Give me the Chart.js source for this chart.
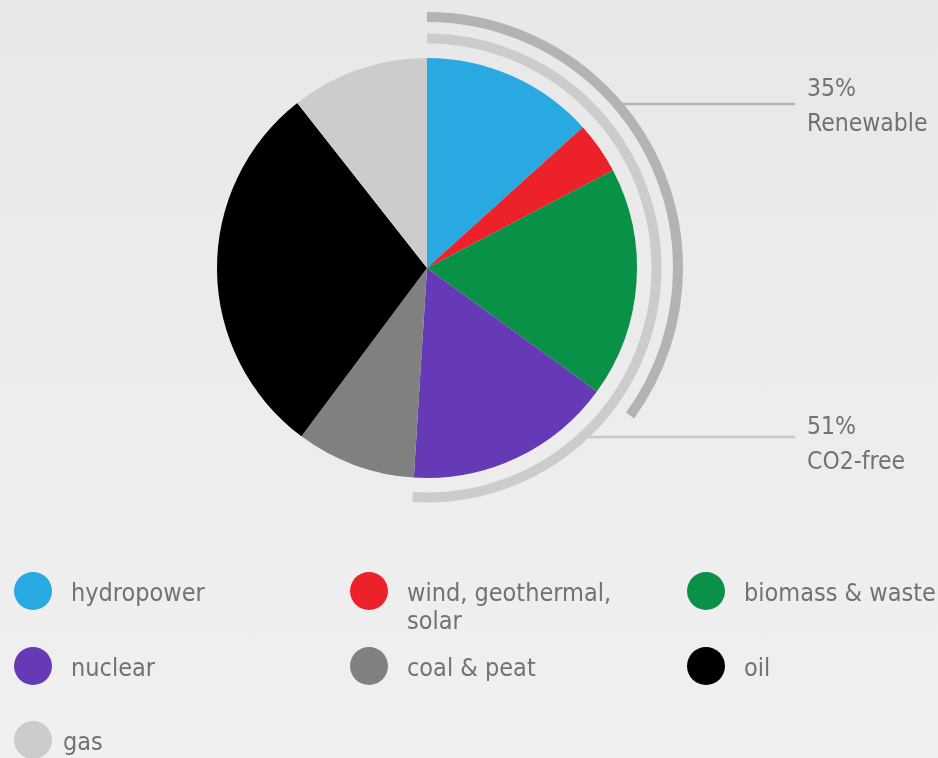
<!DOCTYPE html>
<html>
<head>
<meta charset="utf-8">
<script src="https://cdn.jsdelivr.net/npm/chart.js@4.4.0/dist/chart.umd.min.js"></script>
<style>
html, body { margin: 0; padding: 0; }
body { width: 938px; height: 758px; overflow: hidden; background: linear-gradient(#e8e8e8, #f0f0f0); }
#wrap { position: relative; width: 938px; height: 758px; }
</style>
</head>
<body>
<div id="wrap"><canvas id="energy-pie" width="938" height="758"></canvas></div>
<script>
// energy mix, percent of total, clockwise from 12 o'clock
const categories = ['hydropower', 'wind, geothermal, solar', 'biomass & waste', 'nuclear', 'coal & peat', 'oil', 'gas'];
const shares = [13.3, 4, 17.7, 16, 9.2, 29.2, 10.6];
const sliceColors = ['#29a9e1', '#ed2129', '#0a9148', '#6639b7', '#808080', '#000000', '#cccccc'];

// callouts: number of slices (from the top) each arc covers
const calloutValues = ['35%', '51%'];
const calloutLabels = ['Renewable', 'CO2-free'];
const calloutSliceCounts = [3, 4];

const FONT = '"DejaVu Sans Condensed", "DejaVu Sans", sans-serif';
const TEXT_COLOR = '#727272';

// arcs around the pie + leader lines and their text
const calloutPlugin = {
    id: 'callouts',
    afterDatasetsDraw(chart) {
        const ctx = chart.ctx;
        const arcs = chart.getDatasetMeta(0).data;
        const cx = arcs[0].x, cy = arcs[0].y;
        const radii = [251, 229.5];
        const arcColors = ['#b3b3b3', '#cccccc'];
        const lineColors = ['#b3b3b3', '#c8c8c8'];
        const lineY = [104, 437];
        const textY = [96, 434];

        ctx.save();
        calloutValues.forEach((val, i) => {
            const r = radii[i];
            // leader line, starts at the arc
            const dx = Math.sqrt(Math.max(0, r * r - (lineY[i] - cy) * (lineY[i] - cy)));
            ctx.strokeStyle = lineColors[i];
            ctx.lineWidth = 2.5;
            ctx.beginPath();
            ctx.moveTo(cx + dx, lineY[i]);
            ctx.lineTo(795, lineY[i]);
            ctx.stroke();

            // arc from the top to the end of the last covered slice
            const endAngle = arcs[calloutSliceCounts[i] - 1].endAngle;
            ctx.strokeStyle = arcColors[i];
            ctx.lineWidth = 10;
            ctx.lineCap = 'butt';
            ctx.beginPath();
            ctx.arc(cx, cy, r, -Math.PI / 2, endAngle);
            ctx.stroke();

            ctx.fillStyle = TEXT_COLOR;
            ctx.font = '24.5px ' + FONT;
            ctx.textAlign = 'left';
            ctx.textBaseline = 'alphabetic';
            ctx.fillText(val, 807, textY[i]);
            ctx.fillText(calloutLabels[i], 807, textY[i] + 35);
        });
        ctx.restore();
    }
};

// three-column legend with round swatches
const legendPlugin = {
    id: 'gridLegend',
    afterDraw(chart) {
        const ctx = chart.ctx;
        const colX = [33, 369, 706];
        const rowY = [591, 666, 740];
        const textOffset = [38, 38, 30]; // last row sits a bit closer in the original
        const maxTextWidth = 230;
        ctx.save();
        ctx.font = '25px ' + FONT;
        chart.data.labels.forEach((label, i) => {
            const row = Math.floor(i / 3);
            const x = colX[i % 3];
            const y = rowY[row];
            ctx.fillStyle = chart.data.datasets[0].backgroundColor[i];
            ctx.beginPath();
            ctx.arc(x, y, 19, 0, Math.PI * 2);
            ctx.fill();

            // wrap words that do not fit the column
            const words = label.split(' ');
            const lines = [];
            let line = '';
            words.forEach(w => {
                const test = line ? line + ' ' + w : w;
                if (ctx.measureText(test).width > maxTextWidth && line) {
                    lines.push(line);
                    line = w;
                } else {
                    line = test;
                }
            });
            lines.push(line);

            ctx.fillStyle = TEXT_COLOR;
            ctx.textAlign = 'left';
            ctx.textBaseline = 'alphabetic';
            lines.forEach((t, k) => ctx.fillText(t, x + textOffset[row], y + 10 + k * 28));
        });
        ctx.restore();
    }
};

new Chart(document.getElementById('energy-pie').getContext('2d'), {
    type: 'pie',
    data: {
        labels: categories,
        datasets: [{
            data: shares,
            backgroundColor: sliceColors,
            borderWidth: 0
        }]
    },
    options: {
        responsive: false,
        animation: false,
        layout: {
            padding: { left: 217, top: 58, right: 301, bottom: 280 }
        },
        plugins: {
            legend: { display: false },
            tooltip: { enabled: false }
        }
    },
    plugins: [calloutPlugin, legendPlugin]
});
</script>
</body>
</html>
